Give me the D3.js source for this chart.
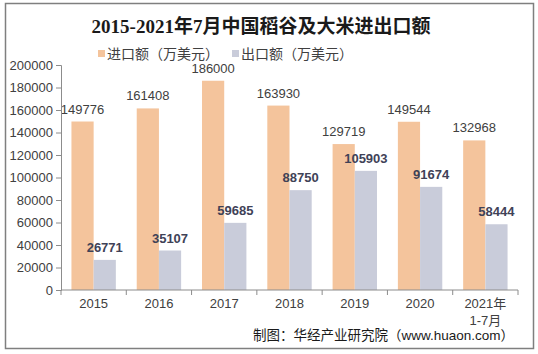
<!DOCTYPE html>
<html>
<head>
<meta charset="utf-8">
<script src="https://cdn.jsdelivr.net/npm/d3@7"></script>
<style>
  body { margin: 0; background: #fff; }
  svg { display: block; font-family: Arial, "Liberation Sans", "Noto Sans CJK SC", sans-serif; }
</style>
</head>
<body>
<svg width="538" height="354"></svg>
<script>
var svg = d3.select('svg'),
  width = 538,
  height = 354;

// the data
var years = ['2015', '2016', '2017', '2018', '2019', '2020', '2021年\n1-7月'];
var importVals = [149776, 161408, 186000, 163930, 129719, 149544, 132968];
var exportVals = [26771, 35107, 59685, 88750, 105903, 91674, 58444];
var seriesNames = ['进口额（万美元）', '出口额（万美元）'];
var colors = ['#F4C49C', '#C9CCDA'];
var yTicks = [0, 20000, 40000, 60000, 80000, 100000, 120000, 140000, 160000, 180000, 200000];

var margin = { left: 61, right: 20, top: 65, bottom: 64 };

// frame
svg.append('rect')
  .attr('x', 5.5).attr('y', 3.5)
  .attr('width', 528).attr('height', 345)
  .attr('fill', 'none')
  .attr('stroke', '#7f7f7f')
  .attr('stroke-width', 1.5);

var x = d3.scaleBand()
  .domain(years)
  .range([margin.left, width - margin.right])
  .paddingInner(0.32)
  .paddingOuter(0.16);

var x1 = d3.scaleBand()
  .domain([0, 1])
  .range([0, x.bandwidth()]);

var y = d3.scaleLinear()
  .domain([0, 200000])
  .range([height - margin.bottom, margin.top]);

// bars
var groups = svg.append('g').selectAll('g')
  .data(years)
  .enter()
  .append('g')
  .attr('transform', function (d) { return 'translate(' + x(d) + ',0)'; });

groups.each(function (d, i) {
  var g = d3.select(this);
  var vals = [importVals[i], exportVals[i]];
  vals.forEach(function (v, k) {
    g.append('rect')
      .attr('x', x1(k))
      .attr('y', y(v))
      .attr('width', x1.bandwidth())
      .attr('height', y(0) - y(v))
      .attr('fill', colors[k]);
    g.append('text')
      .attr('x', x1(k) + x1.bandwidth() / 2)
      .attr('y', y(v) - 8)
      .attr('text-anchor', 'middle')
      .style('font-size', '13px')
      .style('font-weight', k === 1 ? 'bold' : 'normal')
      .attr('fill', k === 1 ? '#3f4257' : '#404040')
      .text(v);
  });
});

// y axis
var yAxis = svg.append('g')
  .attr('transform', 'translate(' + margin.left + ',0)')
  .call(d3.axisLeft(y).tickValues(yTicks).tickSize(5).tickFormat(d3.format('d')));
yAxis.selectAll('path, line').attr('stroke', '#8c8c8c');
yAxis.selectAll('text')
  .attr('fill', '#404040')
  .style('font-size', '13px')
  .style('font-family', 'Arial, "Liberation Sans", sans-serif')
  .attr('x', -8);

// x axis
var xAxisG = svg.append('g')
  .attr('transform', 'translate(0,' + y(0) + ')');
xAxisG.append('line')
  .attr('x1', margin.left).attr('x2', width - margin.right)
  .attr('stroke', '#8c8c8c');
d3.range(years.length + 1).forEach(function (i) {
  var xp = margin.left + (width - margin.right - margin.left) * i / years.length;
  xAxisG.append('line')
    .attr('x1', xp).attr('x2', xp)
    .attr('y1', 0).attr('y2', 5)
    .attr('stroke', '#8c8c8c');
});
years.forEach(function (d) {
  var lines = d.split('\n');
  var t = xAxisG.append('text')
    .attr('text-anchor', 'middle')
    .attr('fill', '#404040')
    .style('font-size', '13px');
  lines.forEach(function (l, j) {
    t.append('tspan')
      .attr('x', x(d) + x.bandwidth() / 2)
      .attr('y', 18 + j * 17)
      .text(l);
  });
});

// title
svg.append('text')
  .attr('x', 261)
  .attr('y', 33)
  .attr('text-anchor', 'middle')
  .style('font-family', '"Liberation Serif", "Noto Sans CJK SC", serif')
  .style('font-weight', 'bold')
  .style('font-size', '19px')
  .attr('fill', '#1a1a1a')
  .text('2015-2021年7月中国稻谷及大米进出口额');

// legend
var legendX = [98, 232];
seriesNames.forEach(function (n, i) {
  svg.append('rect')
    .attr('x', legendX[i]).attr('y', 50)
    .attr('width', 7).attr('height', 7)
    .attr('fill', colors[i]);
  svg.append('text')
    .attr('x', legendX[i] + 9)
    .attr('y', 59)
    .attr('fill', '#404040')
    .style('font-size', '14px')
    .text(n);
});

// source
svg.append('text')
  .attr('x', 514)
  .attr('y', 340)
  .attr('text-anchor', 'end')
  .attr('fill', '#1a1a1a')
  .style('font-size', '13.5px')
  .text('制图：华经产业研究院（www.huaon.com）');
</script>
</body>
</html>
